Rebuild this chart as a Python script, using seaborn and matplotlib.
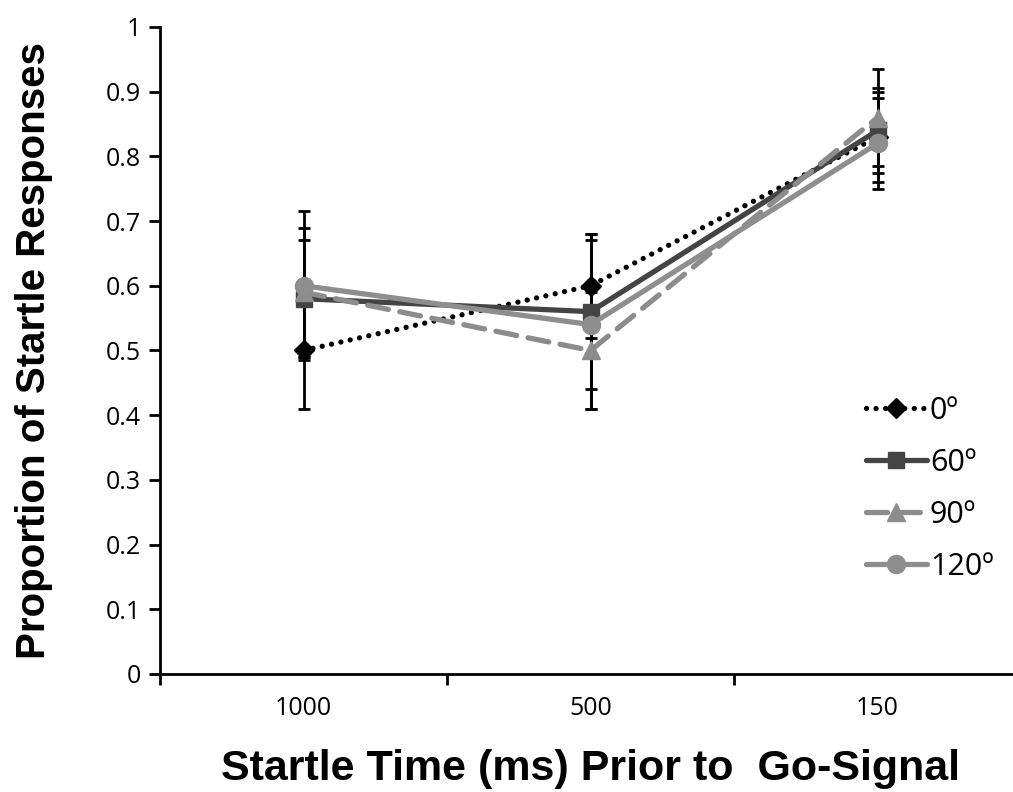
import pandas as pd
import numpy as np
import matplotlib.pyplot as plt
import seaborn as sns

sns.set_style('white')
plt.rcParams['font.family'] = ['Open Sans', 'DejaVu Sans']
plt.rcParams['text.color'] = 'black'
plt.rcParams['axes.labelcolor'] = 'black'
plt.rcParams['xtick.color'] = 'black'
plt.rcParams['ytick.color'] = 'black'

# data
times = ['1000', '500', '150']
conditions = ['0º', '60º', '90º', '120º']
p_0 = [0.50, 0.60, 0.83]
p_60 = [0.58, 0.56, 0.84]
p_90 = [0.59, 0.50, 0.86]
p_120 = [0.60, 0.54, 0.82]
err_0 = [0.09, 0.08, 0.07]
err_60 = [0.09, 0.12, 0.065]
err_90 = [0.10, 0.09, 0.075]
err_120 = [0.115, 0.13, 0.07]

means = [p_0, p_60, p_90, p_120]
errs = [err_0, err_60, err_90, err_120]

rows = []
for c, m, e in zip(conditions, means, errs):
    for i, t in enumerate(times):
        rows.append({'Time': i, 'Condition': c, 'Prop': m[i], 'Err': e[i]})
df = pd.DataFrame(rows)

colors = {'0º': '#000000', '60º': '#444444', '90º': '#8c8c8c', '120º': '#8e8e8e'}
markers = {'0º': 'D', '60º': 's', '90º': '^', '120º': 'o'}
styles = {'0º': (0, (0.01, 1.8)), '60º': '-', '90º': (0, (4, 2.2)), '120º': '-'}
msize = {'0º': 10, '60º': 12, '90º': 13, '120º': 13}

fig = plt.figure(figsize=(10.13, 7.92), dpi=100)
ax = fig.add_axes([0.158, 0.149, 0.85, 0.817])

# error bars first so markers sit on top
for c in conditions:
    d = df[df['Condition'] == c]
    ax.errorbar(d['Time'], d['Prop'], yerr=d['Err'], fmt='none', ecolor='black',
                elinewidth=2, capsize=4.5, capthick=2, zorder=2)

for c in conditions:
    d = df[df['Condition'] == c]
    ax.plot(d['Time'], d['Prop'], color=colors[c], marker=markers[c],
            markersize=msize[c], linewidth=3.8, linestyle=styles[c], label=c, zorder=3,
            dash_capstyle='round', solid_capstyle='round')

ax.set_xlim(-0.5, 2.5)
ax.set_ylim(0, 1)
ax.set_yticks(np.arange(0, 1.01, 0.1))
ax.set_yticklabels(['0', '0.1', '0.2', '0.3', '0.4', '0.5', '0.6', '0.7', '0.8', '0.9', '1'])
ax.set_xticks([0, 1, 2])
ax.set_xticklabels(times)
ax.set_xticks([-0.5, 0.5, 1.5, 2.5], minor=True)
ax.tick_params(axis='x', which='major', length=0, pad=16, labelsize=18)
ax.tick_params(axis='x', which='minor', length=8, width=2, direction='out', bottom=True)
ax.tick_params(axis='y', length=8, width=2, direction='out', left=True, labelsize=18, pad=6)

sns.despine(ax=ax)
for s in ['left', 'bottom']:
    ax.spines[s].set_linewidth(2)
    ax.spines[s].set_color('black')

ax.set_xlabel('Startle Time (ms) Prior to  Go-Signal', fontsize=31, fontweight='bold',
              family=['Liberation Sans', 'DejaVu Sans'], labelpad=20)
ax.set_ylabel('Proportion of Startle Responses', fontsize=29, fontweight='bold',
              family=['Liberation Sans', 'DejaVu Sans'], labelpad=38)

leg = ax.legend(loc='lower right', bbox_to_anchor=(1.0, 0.10), frameon=False,
                fontsize=22, handlelength=2.0, handletextpad=0.1, labelspacing=0.72)

plt.savefig('out.png', dpi=100)
